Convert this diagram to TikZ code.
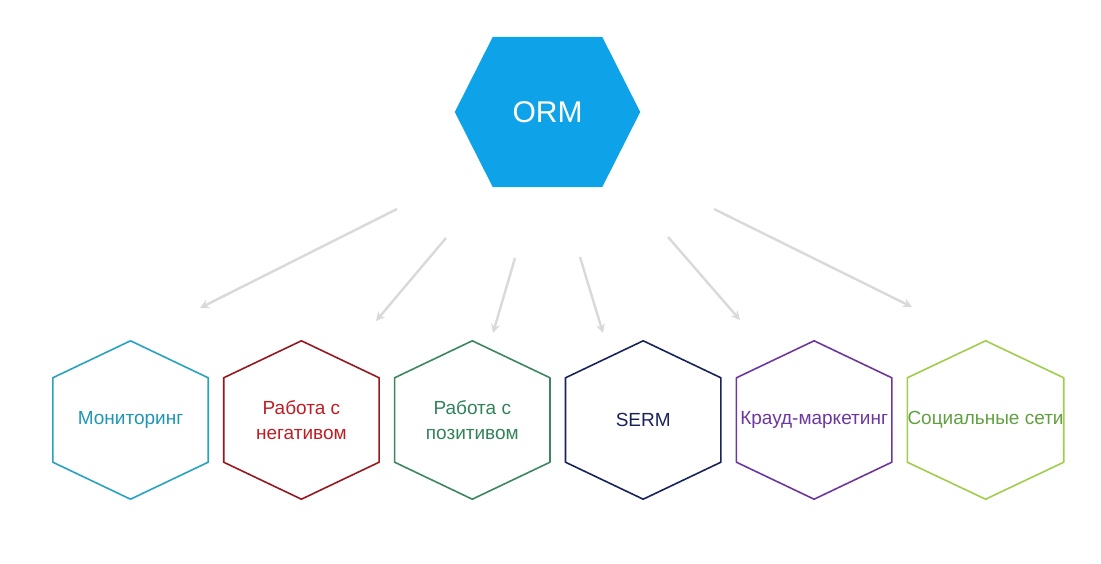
\documentclass[tikz,border=0pt]{standalone}
\usepackage{fontspec}
\setmainfont{Liberation Sans}
\usetikzlibrary{positioning,backgrounds,arrows.meta}

\definecolor{ormblue}{RGB}{14,163,232}
\definecolor{monline}{RGB}{40,162,192}
\definecolor{montext}{RGB}{30,150,180}
\definecolor{negline}{RGB}{150,25,30}
\definecolor{negtext}{RGB}{190,30,35}
\definecolor{posline}{RGB}{60,135,95}
\definecolor{postext}{RGB}{50,130,90}
\definecolor{sermline}{RGB}{25,35,90}
\definecolor{sermtext}{RGB}{25,35,90}
\definecolor{crowdline}{RGB}{110,55,160}
\definecolor{crowdtext}{RGB}{110,55,160}
\definecolor{socline}{RGB}{160,205,75}
\definecolor{soctext}{RGB}{95,160,65}

\begin{document}
\begin{tikzpicture}[x=1pt, y=-1pt, node distance=15.5pt,
    hexbox/.style={minimum width=155pt, minimum height=158pt, inner sep=0pt,
        align=center, font=\fontsize{19}{25}\selectfont},
    arr/.style={draw=gray!30, line width=2.4pt, -{Stealth[length=9pt,width=9pt]}}]%
    \useasboundingbox (0,0) rectangle (1101,564);
    \node (orm) [minimum width=185pt, minimum height=150pt, text=white,
        font=\fontsize{30}{36}\selectfont] at (547.5,112) {ORM};
    \node (h1) [hexbox, text=montext] at (130.5,420) {Мониторинг};
    \node (h2) [hexbox, text=negtext, right=of h1] {Работа с\\негативом};
    \node (h3) [hexbox, text=postext, right=of h2] {Работа с\\позитивом};
    \node (h4) [hexbox, text=sermtext, right=of h3] {SERM};
    \node (h5) [hexbox, text=crowdtext, right=of h4] {Крауд-маркетинг};
    \node (h6) [hexbox, text=soctext, right=of h5] {Социальные сети};
    % hexagon outlines behind the texts
    \begin{scope}[on background layer]
        \fill[ormblue] (orm.west) -- ([xshift=38pt]orm.north west) -- ([xshift=-38pt]orm.north east)
            -- (orm.east) -- ([xshift=-38pt]orm.south east) -- ([xshift=38pt]orm.south west) -- cycle;
        \foreach \n/\c in {h1/monline, h2/negline, h3/posline, h4/sermline, h5/crowdline, h6/socline}
            \draw[\c, line width=1.6pt, line join=round] (\n.north) -- ([yshift=-37pt]\n.north east)
                -- ([yshift=37pt]\n.south east) -- (\n.south) -- ([yshift=37pt]\n.south west)
                -- ([yshift=-37pt]\n.north west) -- cycle;
    \end{scope}
    % arrows
    \foreach \i/\xa/\ya/\xb/\yb in {1/397/209/200/308, 2/446/238/376/321, 3/515/258/493/333,
        4/580/257/603/333, 5/668/237/740/320, 6/714/209/912/307} {
        \coordinate (s\i) at (\xa,\ya);
        \coordinate (e\i) at (\xb,\yb);
        \draw[arr] (s\i) -- (e\i);
    }
\end{tikzpicture}
\end{document}
